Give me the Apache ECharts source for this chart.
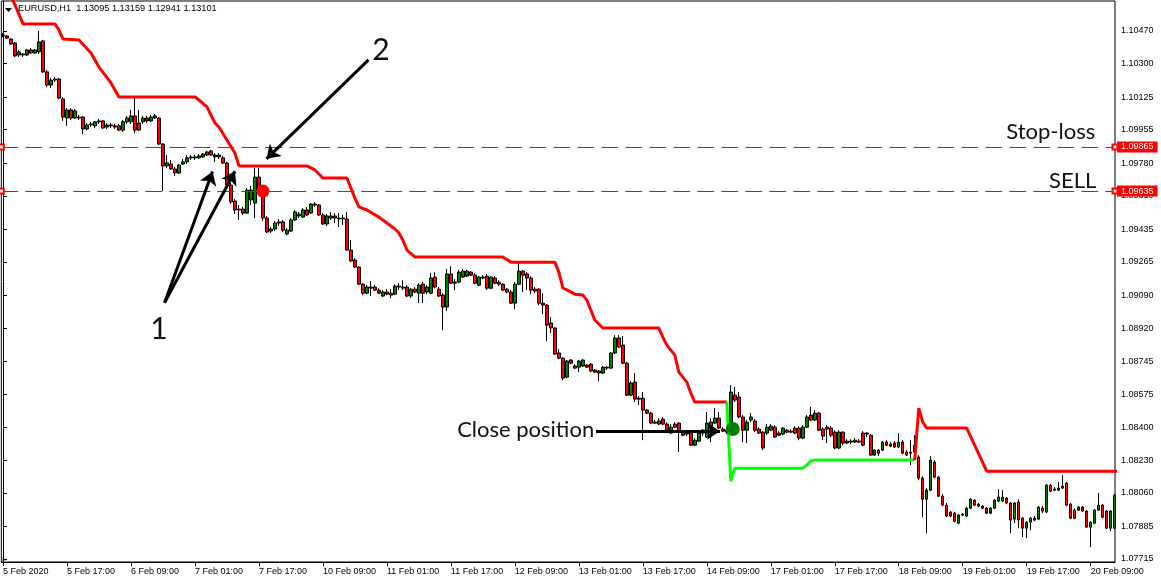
<!DOCTYPE html>
<html><head><meta charset="utf-8">
<script src="https://cdn.jsdelivr.net/npm/echarts@6/dist/echarts.min.js"></script>
<style>html,body{margin:0;padding:0;background:#fff}#c{width:1161px;height:581px}</style>
</head><body><div id="c"></div>
<script>
const symbolInfo = 'EURUSD,H1  1.13095 1.13159 1.12941 1.13101';
const xTickBars = [0,16,32,48,64,80,96,112,128,144,160,176,192,208,224,240,256,272];
const xTickLabels = ['5 Feb 2020','5 Feb 17:00','6 Feb 09:00','7 Feb 01:00','7 Feb 17:00','10 Feb 09:00','11 Feb 01:00','11 Feb 17:00','12 Feb 09:00','13 Feb 01:00','13 Feb 17:00','14 Feb 09:00','17 Feb 01:00','17 Feb 17:00','18 Feb 09:00','19 Feb 01:00','19 Feb 17:00','20 Feb 09:00'];
const yTickValues = [1.10470,1.10300,1.10125,1.09955,1.09780,1.09610,1.09435,1.09265,1.09090,1.08920,1.08745,1.08575,1.08400,1.08230,1.08060,1.07885,1.07715];
// hourly candles: open, close, low, high
const candles = [
[1.10449,1.10444,1.10438,1.10459],[1.10444,1.10433,1.10428,1.10449],[1.10428,1.10402,1.10397,1.10433],[1.10407,1.10340,1.10334,1.10413],[1.10345,1.10361,1.10334,1.10371],[1.10350,1.10345,1.10334,1.10355],[1.10345,1.10371,1.10340,1.10376],[1.10371,1.10355,1.10350,1.10381],
[1.10355,1.10371,1.10350,1.10376],[1.10361,1.10413,1.10350,1.10470],[1.10418,1.10257,1.10251,1.10423],[1.10257,1.10188,1.10177,1.10267],[1.10188,1.10214,1.10172,1.10225],[1.10214,1.10219,1.10204,1.10230],[1.10219,1.10120,1.10115,1.10225],[1.10115,1.10021,1.10001,1.10125],
[1.10016,1.10058,1.09975,1.10068],[1.10058,1.10016,1.10006,1.10068],[1.10016,1.10053,1.10011,1.10063],[1.10021,1.10016,1.10006,1.10032],[1.10021,1.09959,1.09932,1.10027],[1.09959,1.09980,1.09953,1.09990],[1.09980,1.09985,1.09969,1.09996],[1.09975,1.09996,1.09964,1.10001],
[1.09996,1.10001,1.09985,1.10011],[1.10001,1.09964,1.09959,1.10006],[1.09969,1.09980,1.09959,1.09990],[1.09980,1.09975,1.09964,1.09990],[1.09975,1.09969,1.09959,1.09985],[1.09975,1.09953,1.09948,1.09985],[1.09953,1.09996,1.09943,1.10006],[1.09996,1.10016,1.09985,1.10027],
[1.09996,1.10027,1.09985,1.10058],[1.10027,1.09953,1.09937,1.10131],[1.09990,1.09953,1.09948,1.10058],[1.09996,1.10016,1.09985,1.10027],[1.10016,1.10001,1.09990,1.10027],[1.10001,1.10021,1.09996,1.10032],[1.10016,1.10027,1.10011,1.10037],[1.10016,1.09880,1.09875,1.10021],
[1.09880,1.09766,1.09635,1.09885],[1.09766,1.09782,1.09755,1.09823],[1.09776,1.09750,1.09745,1.09797],[1.09750,1.09729,1.09713,1.09761],[1.09729,1.09771,1.09724,1.09776],[1.09776,1.09787,1.09771,1.09802],[1.09787,1.09808,1.09776,1.09823],[1.09808,1.09813,1.09797,1.09823],
[1.09813,1.09808,1.09797,1.09823],[1.09808,1.09818,1.09802,1.09828],[1.09813,1.09828,1.09808,1.09833],[1.09823,1.09839,1.09818,1.09844],[1.09844,1.09823,1.09818,1.09849],[1.09823,1.09813,1.09787,1.09833],[1.09813,1.09823,1.09802,1.09833],[1.09808,1.09781,1.09776,1.09818],
[1.09781,1.09666,1.09661,1.09787],[1.09666,1.09578,1.09567,1.09676],[1.09583,1.09536,1.09515,1.09593],[1.09541,1.09536,1.09484,1.09562],[1.09541,1.09520,1.09510,1.09552],[1.09520,1.09640,1.09515,1.09651],[1.09588,1.09640,1.09562,1.09661],[1.09572,1.09708,1.09494,1.09755],
[1.09708,1.09630,1.09620,1.09755],[1.09630,1.09494,1.09479,1.09640],[1.09494,1.09421,1.09416,1.09505],[1.09426,1.09437,1.09416,1.09447],[1.09437,1.09468,1.09426,1.09479],[1.09468,1.09474,1.09453,1.09489],[1.09474,1.09431,1.09421,1.09484],[1.09411,1.09431,1.09405,1.09442],
[1.09426,1.09484,1.09421,1.09494],[1.09484,1.09526,1.09479,1.09536],[1.09505,1.09515,1.09494,1.09526],[1.09499,1.09536,1.09494,1.09546],[1.09536,1.09510,1.09505,1.09552],[1.09520,1.09567,1.09515,1.09572],[1.09562,1.09567,1.09552,1.09578],[1.09562,1.09510,1.09505,1.09567],
[1.09510,1.09463,1.09458,1.09520],[1.09463,1.09505,1.09453,1.09515],[1.09505,1.09494,1.09484,1.09526],[1.09494,1.09505,1.09468,1.09520],[1.09494,1.09489,1.09447,1.09520],[1.09489,1.09494,1.09458,1.09510],[1.09489,1.09327,1.09322,1.09526],[1.09327,1.09270,1.09264,1.09379],
[1.09275,1.09238,1.09233,1.09285],[1.09238,1.09149,1.09144,1.09243],[1.09149,1.09102,1.09092,1.09154],[1.09102,1.09134,1.09097,1.09144],[1.09128,1.09134,1.09087,1.09165],[1.09134,1.09118,1.09113,1.09144],[1.09118,1.09102,1.09097,1.09128],[1.09087,1.09108,1.09082,1.09118],
[1.09108,1.09097,1.09092,1.09123],[1.09102,1.09092,1.09076,1.09123],[1.09097,1.09139,1.09092,1.09149],[1.09139,1.09134,1.09118,1.09154],[1.09134,1.09128,1.09118,1.09170],[1.09134,1.09087,1.09082,1.09144],[1.09087,1.09123,1.09076,1.09128],[1.09123,1.09108,1.09102,1.09134],
[1.09102,1.09144,1.09050,1.09154],[1.09149,1.09102,1.09050,1.09160],[1.09108,1.09134,1.09097,1.09144],[1.09102,1.09181,1.09097,1.09207],[1.09186,1.09134,1.09128,1.09212],[1.09123,1.09087,1.09082,1.09134],[1.09092,1.09030,1.08909,1.09102],[1.09030,1.09202,1.09009,1.09228],
[1.09202,1.09154,1.09149,1.09243],[1.09160,1.09154,1.09118,1.09175],[1.09160,1.09212,1.09154,1.09223],[1.09186,1.09217,1.09181,1.09228],[1.09191,1.09217,1.09186,1.09223],[1.09212,1.09196,1.09191,1.09217],[1.09196,1.09154,1.09149,1.09207],[1.09144,1.09186,1.09139,1.09191],
[1.09186,1.09181,1.09175,1.09196],[1.09191,1.09128,1.09118,1.09202],[1.09128,1.09186,1.09123,1.09191],[1.09181,1.09154,1.09149,1.09191],[1.09160,1.09149,1.09139,1.09170],[1.09149,1.09118,1.09113,1.09154],[1.09123,1.09108,1.09102,1.09128],[1.09108,1.09050,1.09045,1.09118],
[1.09050,1.09149,1.09019,1.09160],[1.09149,1.09217,1.09144,1.09259],[1.09217,1.09196,1.09108,1.09223],[1.09202,1.09181,1.09118,1.09212],[1.09181,1.09118,1.09097,1.09191],[1.09123,1.09113,1.09102,1.09134],[1.09123,1.09050,1.09040,1.09128],[1.09050,1.09040,1.08993,1.09102],
[1.09040,1.08935,1.08852,1.09045],[1.08946,1.08920,1.08894,1.08977],[1.08920,1.08784,1.08779,1.08925],[1.08790,1.08763,1.08758,1.08810],[1.08763,1.08659,1.08648,1.08768],[1.08664,1.08748,1.08659,1.08753],[1.08753,1.08737,1.08732,1.08758],[1.08722,1.08711,1.08706,1.08732],
[1.08716,1.08748,1.08690,1.08753],[1.08722,1.08753,1.08716,1.08758],[1.08727,1.08716,1.08711,1.08732],[1.08732,1.08696,1.08690,1.08737],[1.08701,1.08690,1.08685,1.08706],[1.08696,1.08685,1.08643,1.08701],[1.08685,1.08716,1.08680,1.08722],[1.08716,1.08711,1.08701,1.08722],
[1.08711,1.08790,1.08706,1.08795],[1.08790,1.08868,1.08784,1.08883],[1.08868,1.08821,1.08816,1.08883],[1.08831,1.08737,1.08732,1.08878],[1.08737,1.08570,1.08565,1.08742],[1.08570,1.08633,1.08565,1.08643],[1.08638,1.08549,1.08534,1.08685],[1.08554,1.08549,1.08518,1.08565],
[1.08554,1.08492,1.08335,1.08586],[1.08492,1.08476,1.08471,1.08497],[1.08476,1.08424,1.08419,1.08482],[1.08429,1.08424,1.08419,1.08440],[1.08419,1.08435,1.08414,1.08450],[1.08445,1.08419,1.08414,1.08456],[1.08419,1.08377,1.08372,1.08429],[1.08372,1.08403,1.08367,1.08419],
[1.08419,1.08403,1.08398,1.08429],[1.08424,1.08377,1.08273,1.08429],[1.08377,1.08361,1.08356,1.08387],[1.08372,1.08367,1.08356,1.08377],[1.08377,1.08309,1.08304,1.08382],[1.08309,1.08335,1.08304,1.08346],[1.08330,1.08372,1.08325,1.08377],[1.08372,1.08387,1.08356,1.08393],
[1.08351,1.08424,1.08346,1.08482],[1.08403,1.08429,1.08325,1.08450],[1.08424,1.08450,1.08419,1.08502],[1.08450,1.08398,1.08393,1.08482],[1.08393,1.08382,1.08377,1.08403],[1.08377,1.08387,1.08367,1.08403],[1.08387,1.08586,1.08372,1.08622],[1.08570,1.08544,1.08534,1.08612],
[1.08560,1.08456,1.08450,1.08586],[1.08456,1.08387,1.08325,1.08466],[1.08387,1.08429,1.08320,1.08440],[1.08440,1.08456,1.08429,1.08476],[1.08435,1.08387,1.08377,1.08445],[1.08393,1.08372,1.08367,1.08403],[1.08377,1.08294,1.08283,1.08382],[1.08372,1.08403,1.08361,1.08419],
[1.08387,1.08408,1.08382,1.08419],[1.08403,1.08351,1.08346,1.08414],[1.08372,1.08361,1.08356,1.08382],[1.08367,1.08398,1.08361,1.08403],[1.08387,1.08377,1.08372,1.08393],[1.08382,1.08377,1.08372,1.08393],[1.08398,1.08372,1.08367,1.08408],[1.08398,1.08346,1.08335,1.08408],
[1.08346,1.08403,1.08340,1.08414],[1.08403,1.08456,1.08398,1.08466],[1.08466,1.08440,1.08435,1.08508],[1.08440,1.08476,1.08435,1.08492],[1.08476,1.08387,1.08382,1.08482],[1.08393,1.08356,1.08335,1.08403],[1.08403,1.08393,1.08320,1.08414],[1.08398,1.08361,1.08351,1.08408],
[1.08377,1.08294,1.08288,1.08387],[1.08294,1.08377,1.08288,1.08387],[1.08377,1.08320,1.08309,1.08382],[1.08330,1.08320,1.08314,1.08340],[1.08330,1.08325,1.08314,1.08340],[1.08325,1.08335,1.08320,1.08346],[1.08330,1.08325,1.08320,1.08340],[1.08372,1.08309,1.08304,1.08382],
[1.08372,1.08367,1.08351,1.08377],[1.08361,1.08257,1.08252,1.08367],[1.08257,1.08283,1.08252,1.08288],[1.08283,1.08267,1.08252,1.08288],[1.08283,1.08325,1.08278,1.08330],[1.08325,1.08309,1.08304,1.08335],[1.08314,1.08304,1.08299,1.08325],[1.08320,1.08299,1.08294,1.08330],
[1.08299,1.08325,1.08294,1.08372],[1.08325,1.08267,1.08262,1.08335],[1.08273,1.08257,1.08252,1.08283],[1.08273,1.08267,1.08205,1.08335],[1.08273,1.08309,1.08257,1.08361],[1.08247,1.08137,1.08126,1.08257],[1.08137,1.08027,1.07933,1.08147],[1.08027,1.08074,1.07850,1.08085],
[1.08074,1.08231,1.08069,1.08252],[1.08220,1.08142,1.08137,1.08231],[1.08142,1.08043,1.08038,1.08147],[1.08043,1.07996,1.07991,1.08054],[1.07996,1.07939,1.07933,1.08007],[1.07960,1.07939,1.07933,1.07965],[1.07954,1.07912,1.07907,1.07960],[1.07902,1.07944,1.07897,1.07949],
[1.07949,1.07944,1.07939,1.07954],[1.07939,1.07980,1.07933,1.07986],[1.07980,1.08027,1.07975,1.08033],[1.08022,1.07996,1.07991,1.08027],[1.08001,1.07991,1.07986,1.08007],[1.07991,1.07980,1.07975,1.07996],[1.07980,1.07954,1.07949,1.07986],[1.07954,1.07980,1.07949,1.07986],
[1.07980,1.08022,1.07975,1.08027],[1.08017,1.08038,1.08012,1.08080],[1.08017,1.08038,1.08012,1.08074],[1.08033,1.08007,1.08001,1.08038],[1.08007,1.07918,1.07850,1.08012],[1.07923,1.08007,1.07902,1.08012],[1.08012,1.07918,1.07876,1.08027],[1.07928,1.07876,1.07829,1.07933],
[1.07876,1.07907,1.07824,1.07912],[1.07907,1.07928,1.07865,1.07933],[1.07928,1.07918,1.07912,1.07939],[1.07923,1.07986,1.07918,1.07991],[1.07980,1.07965,1.07954,1.07991],[1.07960,1.08100,1.07954,1.08106],[1.08100,1.08069,1.08064,1.08106],[1.08080,1.08074,1.08069,1.08090],
[1.08074,1.08085,1.08069,1.08116],[1.08085,1.08095,1.08080,1.08153],[1.08111,1.07996,1.07991,1.08116],[1.08001,1.07928,1.07923,1.08007],[1.07970,1.07928,1.07923,1.07980],[1.07970,1.07986,1.07965,1.07991],[1.07986,1.07965,1.07960,1.07991],[1.07965,1.07881,1.07881,1.07970],
[1.07881,1.07907,1.07777,1.07912],[1.07902,1.07970,1.07897,1.07975],[1.07970,1.07996,1.07965,1.08059],[1.07996,1.07933,1.07928,1.08001],[1.07965,1.07876,1.07871,1.07970],[1.07876,1.07965,1.07860,1.07970],[1.07876,1.08048,1.07871,1.08054]
];
// trailing stop line vertices: [bar index, price]
const stopRedA = [[0,1.10736],[3,1.10606],[5,1.10507],[13,1.10507],[14,1.10475],[15,1.10428],[19,1.10423],[22,1.10355],[24,1.10282],[27,1.10199],[29,1.10126],[48,1.10126],[49,1.10110],[51,1.10074],[53,1.09990],[54,1.09969],[56,1.09901],[58,1.09833],[59,1.09766],[76,1.09766],[78,1.09745],[80,1.09703],[86,1.09703],[87,1.09651],[88,1.09598],[89,1.09552],[91,1.09536],[94,1.09499],[96,1.09468],[98,1.09437],[99,1.09416],[100,1.09379],[101,1.09327],[103,1.09291],[125,1.09291],[127,1.09264],[138,1.09264],[139,1.09212],[140,1.09129],[141,1.09119],[143,1.09097],[145,1.09092],[146,1.09066],[148,1.08962],[150,1.08920],[164,1.08920],[165,1.08873],[166,1.08831],[168,1.08779],[169,1.08690],[171,1.08638],[172,1.08581],[173,1.08534],[181,1.08534]];
const stopGreen = [[181,1.08534],[182,1.08121],[183,1.08189],[200,1.08189],[201,1.08205],[202,1.08226],[203,1.08231],[228,1.08231]];
const stopRedB = [[228,1.08231],[229,1.08502],[230,1.08429],[231,1.08398],[241,1.08398],[246,1.08173],[279,1.08173]];
const levels = [1.09865, 1.09635];          // stop-loss, sell price
const entryPoint = [65, 1.09635];
const closePoint = [182.5, 1.08393];
// arrows: [from bar, from price, to bar, to price]
const arrows = [[40.4,1.09052,52.4,1.09737],[40.4,1.09052,58.0,1.09738],[91.4,1.10319,65.9,1.09803],[148.3,1.08382,179.3,1.08382]];
// notes: [text, bar, price]
const notes = [['1',39.0,1.08915],['2',94.5,1.10371],['Close position',130.7,1.08387],['Stop-loss',262.0,1.09943],['SELL',267.5,1.09690]];

const chart = echarts.init(document.getElementById('c'), null, {renderer:'canvas'});
const axisFont = {fontFamily:'Liberation Sans', fontSize:9, color:'#000'};
const option = {
  animation:false,
  backgroundColor:'#fff',
  title:{text:symbolInfo, left:18, top:4, padding:0, textStyle:{fontFamily:'Liberation Sans', fontSize:9.2, fontWeight:'normal', color:'#000'}},
  grid:{left:1, top:1, right:46, bottom:19, show:true, borderColor:'#000', borderWidth:1, backgroundColor:'#fff'},
  xAxis:{type:'value', min:-0.4175, max:278.08, position:'bottom',
    axisLine:{show:true, lineStyle:{color:'#000', width:1}},
    axisTick:{show:true, length:4, inside:false, customValues:xTickBars, lineStyle:{color:'#000'}},
    axisLabel:Object.assign({customValues:xTickBars, margin:5, align:'left',
      formatter:v=>{const k=xTickBars.indexOf(Math.round(v)); return k>=0?xTickLabels[k]:'';}}, axisFont),
    splitLine:{show:false}},
  yAxis:{type:'value', min:1.0769934, max:1.1062654, position:'right', scale:true,
    axisLine:{show:true, lineStyle:{color:'#000', width:1}},
    axisTick:{show:true, length:4, inside:false, customValues:yTickValues, lineStyle:{color:'#000'}},
    axisLabel:Object.assign({customValues:yTickValues, margin:6, formatter:v=>v.toFixed(5)}, axisFont),
    splitLine:{show:false}},
  graphic:[
    {type:'polygon', shape:{points:[[5,8],[12,8],[8.5,12]]}, style:{fill:'#000'}},
    {type:'polygon', shape:{points:[[2,556],[2,561.5],[7.5,561.5]]}, style:{fill:'#c0c0c0'}}
  ],
  series:[
    {type:'candlestick', z:2, barWidth:3,
      data:candles.map((d,i)=>[i,d[0],d[1],d[2],d[3]]),
      itemStyle:{color:'#008000', color0:'#ff0000', borderColor:'#000', borderColor0:'#000', borderWidth:1}},
    {type:'line', z:3, data:stopRedA, symbol:'none', lineStyle:{color:'#ff0000', width:3}},
    {type:'line', z:3, data:stopGreen, symbol:'none', lineStyle:{color:'#00ff00', width:3}},
    {type:'line', z:3, data:stopRedB, symbol:'none', lineStyle:{color:'#ff0000', width:3}},
    {type:'scatter', z:4, clip:false, data:[entryPoint], symbolSize:13, itemStyle:{color:'#ff0000', opacity:1},
      markLine:{silent:true, animation:false, precision:5, symbol:['emptyRect','emptyRect'], symbolSize:5,
        lineStyle:{color:'#ff0000', width:1, type:[17,7]},
        label:{show:true, position:'end', distance:2, formatter:p=>Number(p.value).toFixed(5), color:'#fff', backgroundColor:'#ff0000', fontFamily:'Liberation Sans', fontSize:9, padding:[1,4,1,4]},
        emphasis:{disabled:true},
        data:levels.map(v=>({yAxis:v}))}},
    {type:'scatter', z:5, clip:false, data:[closePoint], symbolSize:14, itemStyle:{color:'#008000', opacity:1},
      markLine:{silent:true, animation:false, symbol:['none','arrow'], symbolSize:13,
        lineStyle:{color:'#000', width:3, type:'solid'}, itemStyle:{color:'#000'}, label:{show:false}, emphasis:{disabled:true},
        data:arrows.map(a=>[{coord:[a[0],a[1]]},{coord:[a[2],a[3]]}])},
      markPoint:{silent:true, animation:false, symbol:'circle', symbolSize:1, itemStyle:{color:'rgba(0,0,0,0)'},
        data:notes.map(n=>({coord:[n[1],n[2]], value:n[0],
          label:{show:true, position:'inside', formatter:n[0], color:'#111', fontFamily:'Lato', fontSize:(n[0].length===1?30:22)}}))}}
  ]
};
chart.setOption(option);
</script></body></html>
